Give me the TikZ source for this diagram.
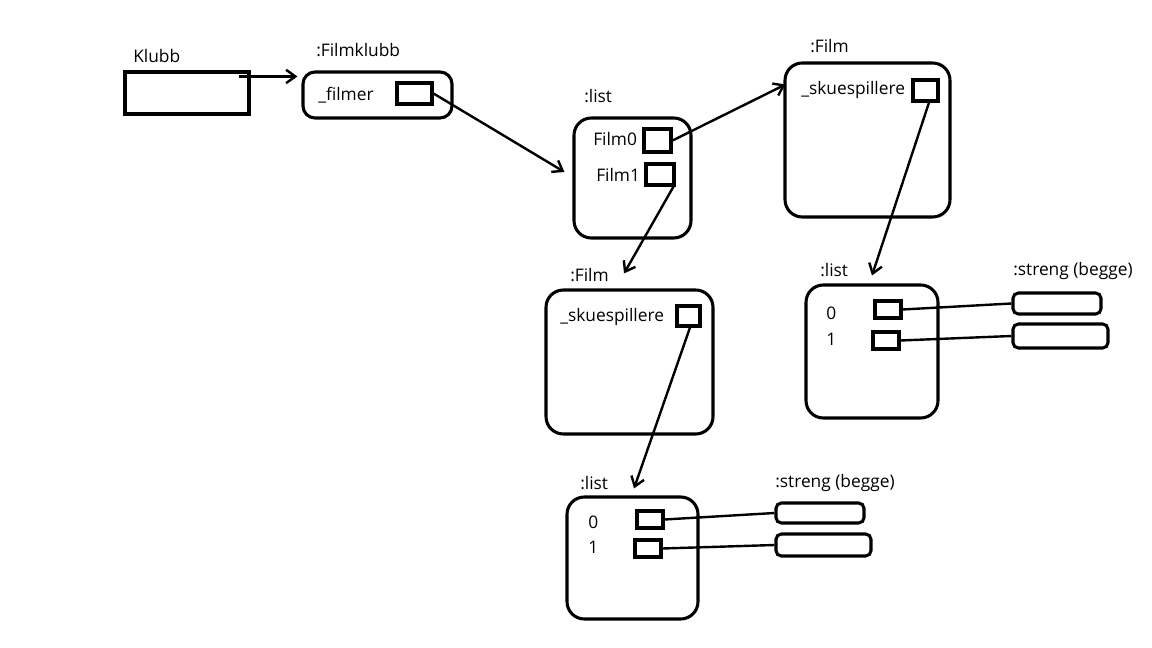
\documentclass[tikz,border=0pt]{standalone}
\usepackage{fontspec}
\setmainfont{Open Sans}
\usetikzlibrary{arrows.meta,calc}
\begin{document}
\begin{tikzpicture}[x=0.75pt,y=-0.75pt,
  every node/.style={font=\fontsize{13}{15}\selectfont, inner sep=0pt},
  txt/.style={anchor=west},
  sized/.style 2 args={minimum width=#1*0.75pt, minimum height=#2*0.75pt},
  plainbox/.style 2 args={draw, line width=2.3pt, sized={#1}{#2}},
  objbox/.style 2 args={draw, line width=2.3pt, rounded corners=13pt, sized={#1}{#2}},
  smallobj/.style 2 args={draw, line width=2.3pt, rounded corners=9pt, sized={#1}{#2}},
  strbox/.style 2 args={draw, line width=2.3pt, rounded corners=4pt, sized={#1}{#2}},
  slot/.style 2 args={draw, line width=2.3pt, sized={#1}{#2}},
  link/.style={line width=1.8pt, -{Straight Barb[length=7pt,width=10pt,line width=1.8pt]}},
  wire/.style={line width=1.8pt}
]
% canvas
\fill[white] (0,0) rectangle (1152,648);

% Klubb variable
\node[txt] (klubbtxt) at (133,56) {Klubb};
\node[plainbox={124}{42}] (klubb) at (187,93) {};

% :Filmklubb object
\node[txt] (fktxt) at (316,50) {:Filmklubb};
\node[smallobj={149}{46}] (fk) at (377.5,95) {};
\node[txt] (filmertxt) at (318,95) {\_filmer};
\node[slot={35}{21}] (filmer) at (414.5,93.5) {};

% :list of films
\node[txt] (l1txt) at (584,96) {:list};
\node[objbox={117}{120}] (list1) at (632.5,178) {};
\node[txt] (f0txt) at (593,139) {Film0};
\node[slot={27}{23}] (film0) at (657.5,140.5) {};
\node[txt] (f1txt) at (596,175) {Film1};
\node[slot={28}{21}] (film1) at (660,174.5) {};

% first :Film
\node[txt] (fatxt) at (810,46) {:Film};
\node[objbox={165}{154}] (filmA) at (867.5,140) {};
\node[txt] (skatxt) at (801,90) {\_skuespillere};
\node[slot={25}{21}] (skA) at (925.5,90.5) {};

% its :list of actors
\node[txt] (latxt) at (820,270) {:list};
\node[objbox={132}{133}] (listA) at (872,351.5) {};
\node[txt] (a0txt) at (826,313) {0};
\node[txt] (a1txt) at (826,339) {1};
\node[slot={26}{17}] (a0) at (888,309.5) {};
\node[slot={26}{17}] (a1) at (886,340.5) {};
\node[txt] (satxt) at (1013,271) {:streng (begge)};
\node[strbox={88}{21}] (strA0) at (1057,303.5) {};
\node[strbox={95}{24}] (strA1) at (1060.5,336) {};

% second :Film
\node[txt] (fbtxt) at (570,275) {:Film};
\node[objbox={167}{144}] (filmB) at (629.5,362) {};
\node[txt] (skbtxt) at (560,317) {\_skuespillere};
\node[slot={23}{20}] (skB) at (688.5,316) {};

% its :list of actors
\node[txt] (lbtxt) at (580,483) {:list};
\node[objbox={131}{122}] (listB) at (632.5,558) {};
\node[txt] (b0txt) at (588,522) {0};
\node[txt] (b1txt) at (588,547) {1};
\node[slot={26}{17}] (b0) at (650,519.5) {};
\node[slot={26}{17}] (b1) at (648,548.5) {};
\node[txt] (sbtxt) at (775,483) {:streng (begge)};
\node[strbox={88}{20}] (strB0) at (820,513) {};
\node[strbox={95}{22}] (strB1) at (823.5,545) {};

% references
\draw[link, line width=2.3pt] ([shift={(-12,6)}]klubb.north east) -- ([shift={(-4,6)}]fk.north west);
\draw[link] (filmer.east) -- ([shift={(-8,-6)}]list1.west);
\draw[link] (film0.east) -- ([shift={(2,23)}]filmA.north west);
\draw[link] ([shift={(3.5,0)}]skA.south) -- ([shift={(0,-8)}]listA.north);
\draw[link] ([shift={(-2,0)}]film1.south east) -- ([shift={(-5.5,-15)}]filmB.north);
\draw[link] ([shift={(1.5,0)}]skB.south) -- ([shift={(1.5,-7)}]listB.north);

% element wires
\draw[wire] (a0.east) -- (strA0.west);
\draw[wire] (a1.east) -- (strA1.west);
\draw[wire] (b0.east) -- (strB0.west);
\draw[wire] (b1.east) -- (strB1.west);
\end{tikzpicture}
\end{document}
